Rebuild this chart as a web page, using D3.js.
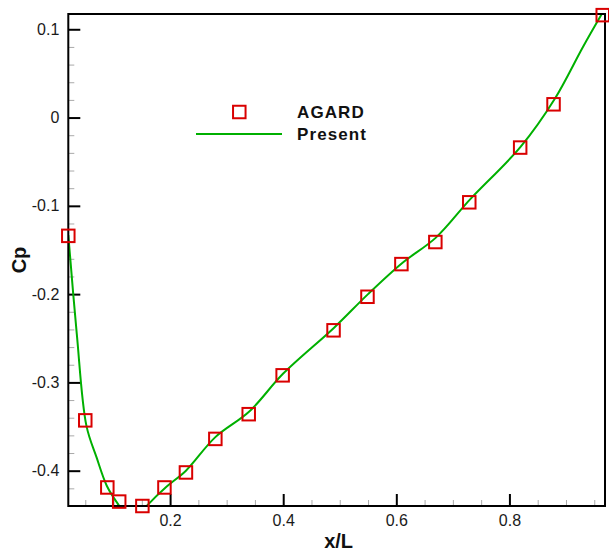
<!DOCTYPE html>
<html>
<head>
<meta charset="utf-8">
<script src="https://cdn.jsdelivr.net/npm/d3@7"></script>
<style>
  html, body { margin: 0; padding: 0; background: #fff; }
  svg { display: block; }
  text { font-family: "Liberation Sans", Arial, sans-serif; }
</style>
</head>
<body>
<svg id="chart" width="609" height="551"></svg>
<script>
// ---- data ----
const agardX  = [0.020, 0.050, 0.089, 0.110, 0.151, 0.190, 0.228, 0.280, 0.339, 0.399, 0.489, 0.549, 0.609, 0.669, 0.729, 0.819, 0.878, 0.965];
const agardCp = [-0.134, -0.343, -0.419, -0.435, -0.440, -0.419, -0.402, -0.364, -0.336, -0.292, -0.241, -0.203, -0.166, -0.141, -0.096, -0.034, 0.015, 0.116];

const presentX  = [0.020, 0.035, 0.052, 0.070, 0.088, 0.107, 0.125, 0.145, 0.160, 0.194, 0.228, 0.280, 0.340, 0.400, 0.490, 0.550, 0.610, 0.670, 0.730, 0.820, 0.880, 0.930, 0.963];
const presentCp = [-0.133, -0.245, -0.349, -0.385, -0.417, -0.437, -0.452, -0.450, -0.439, -0.418, -0.400, -0.362, -0.333, -0.290, -0.238, -0.200, -0.165, -0.136, -0.093, -0.033, 0.021, 0.080, 0.117];

const xMajorTicks = [0.2, 0.4, 0.6, 0.8];
const xMinorTicks = [0.05, 0.1, 0.15, 0.25, 0.3, 0.35, 0.45, 0.5, 0.55, 0.65, 0.7, 0.75, 0.85, 0.9, 0.95];
const yMajorTicks = [0.1, 0, -0.1, -0.2, -0.3, -0.4];
const yMinorTicks = [0.08, 0.06, 0.04, 0.02, -0.02, -0.04, -0.06, -0.08, -0.12, -0.14, -0.16, -0.18, -0.22, -0.24, -0.26, -0.28, -0.32, -0.34, -0.36, -0.38, -0.42];
const legendLabels = ["AGARD", "Present"];
const xTitle = "x/L";
const yTitle = "Cp";

// ---- layout ----
const L = 68.3, R = 605, T = 14, B = 506;
const red = "#d90000", green = "#00b000";

const svg = d3.select("#chart");
const x = d3.scaleLinear().domain([0.02, 0.969]).range([L, R]);
const y = d3.scaleLinear().domain([-0.44, 0.1173]).range([B, T]);

const fmt = d => (d === 0 ? "0" : d3.format(".1f")(d).replace("−", "-"));

// minor ticks
svg.append("g").attr("transform", `translate(0,${B})`)
  .call(d3.axisBottom(x).tickValues(xMinorTicks).tickSize(-6).tickFormat(""))
  .call(g => { g.select(".domain").remove(); g.selectAll("line").attr("stroke", "#aaa").attr("stroke-width", 1); });
svg.append("g").attr("transform", `translate(${L},0)`)
  .call(d3.axisLeft(y).tickValues(yMinorTicks).tickSize(-6).tickFormat(""))
  .call(g => { g.select(".domain").remove(); g.selectAll("line").attr("stroke", "#aaa").attr("stroke-width", 1); });

// major ticks
svg.append("g").attr("transform", `translate(0,${B})`)
  .call(d3.axisBottom(x).tickValues(xMajorTicks).tickSize(-12).tickPadding(9).tickFormat(fmt))
  .call(g => {
    g.select(".domain").remove();
    g.selectAll("line").attr("stroke", "#000").attr("stroke-width", 2);
    g.selectAll("text").attr("font-size", 16).attr("fill", "#1a1a1a")
      .attr("font-family", '"Liberation Sans", Arial, sans-serif');
  });
svg.append("g").attr("transform", `translate(${L},0)`)
  .call(d3.axisLeft(y).tickValues(yMajorTicks).tickSize(-12).tickPadding(9).tickFormat(fmt))
  .call(g => {
    g.select(".domain").remove();
    g.selectAll("line").attr("stroke", "#000").attr("stroke-width", 2);
    g.selectAll("text").attr("font-size", 16).attr("fill", "#1a1a1a")
      .attr("font-family", '"Liberation Sans", Arial, sans-serif');
  });

// clip for the line
svg.append("clipPath").attr("id", "clip")
  .append("rect").attr("x", L).attr("y", T).attr("width", R - L).attr("height", B - T);

// present line
const lineData = presentX.map((d, i) => [d, presentCp[i]]);
svg.append("path")
  .datum(lineData)
  .attr("clip-path", "url(#clip)")
  .attr("fill", "none")
  .attr("stroke", green)
  .attr("stroke-width", 2)
  .attr("d", d3.line().x(d => x(d[0])).y(d => y(d[1])).curve(d3.curveCatmullRom.alpha(0.5)));

// frame
svg.append("rect")
  .attr("x", L).attr("y", T).attr("width", R - L).attr("height", B - T)
  .attr("fill", "none").attr("stroke", "#000").attr("stroke-width", 2);

// AGARD markers
const sq = 12.5;
svg.append("g").selectAll("rect")
  .data(agardX.map((d, i) => [d, agardCp[i]]))
  .join("rect")
  .attr("x", d => x(d[0]) - sq / 2)
  .attr("y", d => y(d[1]) - sq / 2)
  .attr("width", sq).attr("height", sq)
  .attr("fill", "none").attr("stroke", red).attr("stroke-width", 2);

// legend
const lg = svg.append("g");
lg.append("rect").attr("x", 239.3 - sq / 2).attr("y", 112 - sq / 2).attr("width", sq).attr("height", sq)
  .attr("fill", "none").attr("stroke", red).attr("stroke-width", 2);
lg.append("line").attr("x1", 196).attr("x2", 282).attr("y1", 134).attr("y2", 134)
  .attr("stroke", green).attr("stroke-width", 2);
lg.selectAll("text").data(legendLabels).join("text")
  .attr("x", 297).attr("y", (d, i) => 118 + i * 22)
  .attr("font-size", 17).attr("font-weight", "bold").attr("letter-spacing", 1.1)
  .attr("fill", "#111").text(d => d);

// axis titles
svg.append("text").attr("x", (L + R) / 2 + 2).attr("y", 548)
  .attr("text-anchor", "middle").attr("font-size", 20).attr("font-weight", "bold")
  .attr("fill", "#111").text(xTitle);
svg.append("text").attr("transform", `translate(26,${(T + B) / 2}) rotate(-90)`)
  .attr("text-anchor", "middle").attr("font-size", 20).attr("font-weight", "bold")
  .attr("fill", "#111").text(yTitle);
</script>
</body>
</html>
